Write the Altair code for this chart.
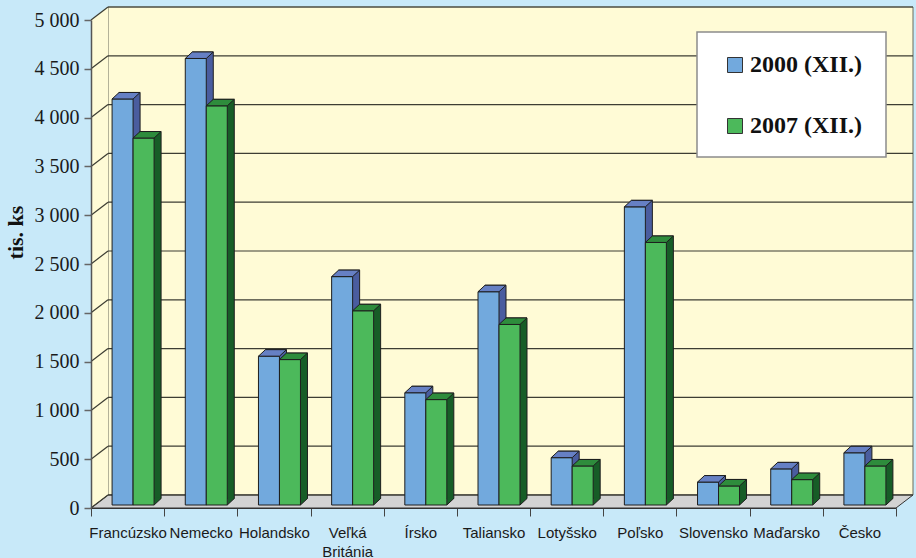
import altair as alt
import pandas as pd

# ---- data ----
krajiny = ["Francúzsko", "Nemecko", "Holandsko", "Veľká Británia", "Írsko",
           "Taliansko", "Lotyšsko", "Poľsko", "Slovensko", "Maďarsko", "Česko"]
roky = ["2000 (XII.)", "2007 (XII.)"]
h2000 = [4160, 4575, 1525, 2340, 1150, 2185, 485, 3055, 235, 370, 535]
h2007 = [3760, 4090, 1490, 1990, 1080, 1850, 400, 2690, 195, 260, 400]
y_ticks = list(range(0, 5001, 500))

# ---- style ----
W, H = 805, 488
DX, DY = 17, -13          # depth of walls (px)
BW = 21                   # bar width (px)
FRONT_DY = -3             # bar front plane offset
BDX, BDY = 7, -6.5        # bar depth (px)
OFFS = [-5, 16]           # bar centre offsets within the category
BG = "#c8e9f9"
WALL = "#fffbd6"
FLOOR = "#d3d3d3"
GRID = "#3d3d33"
EDGE = "#1e1e1e"
FRONT = ["#72a9dd", "#4cb95b"]
TOP = ["#6680c4", "#2e8c3c"]
SIDE = ["#4a5d9f", "#175d27"]

df = pd.DataFrame({
    "krajina": krajiny * 2,
    "rok": [roky[0]] * len(krajiny) + [roky[1]] * len(krajiny),
    "hodnota": h2000 + h2007,
})
ticks_df = pd.DataFrame({"v": y_ticks})
one = pd.DataFrame({"k": [0]})

x_scale = alt.Scale(type="band", domain=krajiny, paddingInner=0, paddingOuter=0)
y_scale = alt.Scale(domain=[0, 5000], nice=False, zero=True)

x_axis = alt.Axis(
    title=None, labelExpr="split(datum.label, ' ')", labelFont="Liberation Sans",
    labelFontSize=15, labelColor="#1a1a1a", labelAngle=0, labelPadding=9,
    labelLineHeight=19, labelBaseline="top", tickSize=8, tickColor="#444",
    tickWidth=1, tickBand="extent", domainColor="#333", domainWidth=1, zindex=1,
    labelLimit=200,
)
y_axis = alt.Axis(
    title="tis. ks", values=y_ticks,
    labelExpr="replace(format(datum.value, ','), ',', ' ')",
    labelFont="Liberation Serif", labelFontSize=20, labelColor="#1a1a1a",
    labelPadding=5, labelFlush=False, labelOverlap=False,
    tickSize=7, tickColor="#666", tickWidth=1.5,
    domainColor="#555", domainWidth=1.5, grid=False,
    titleFont="Liberation Serif", titleFontSize=22, titleFontWeight="bold",
    titleColor="#111", titleX=-76, titleY=212, titleAngle=-90,
    titleAlign="center", titleBaseline="middle", zindex=1,
)

X = alt.X("krajina:N", scale=x_scale, axis=x_axis, sort=None)
Y = alt.Y("hodnota:Q", scale=y_scale, axis=y_axis)
Y0 = alt.YDatum(0, scale=y_scale, axis=y_axis)

color_scale = alt.Scale(domain=roky, range=FRONT)
legend = alt.Legend(
    title=None, orient="none", legendX=632, legendY=33, symbolType="square",
    symbolSize=225, symbolStrokeColor="#333", symbolStrokeWidth=1,
    labelFont="Liberation Serif", labelFontSize=24, labelFontWeight="bold",
    labelColor="#111", labelOffset=3, rowPadding=37, padding=0, labelLimit=300,
)

# ---- walls & floor ----
back_wall = alt.Chart(one).mark_rect(
    fill=WALL, stroke="#6b6b5a", strokeWidth=1,
    xOffset=DX, x2Offset=DX, yOffset=DY, y2Offset=DY,
).encode(x=alt.value(0), x2=alt.value(W),
         y=alt.YDatum(5000, scale=y_scale, axis=y_axis), y2=alt.Y2Datum(0))

left_wall = alt.Chart(one).mark_point(
    shape=f"M0,0L0,{-H}L{DX},{-H + DY}L{DX},{DY}Z", size=4, filled=True,
    fill=WALL, opacity=1, strokeWidth=0,
).encode(x=alt.value(0), y=Y0)

floor = alt.Chart(one).mark_point(
    shape=f"M0,0L{W},0L{W + DX},{DY}L{DX},{DY}Z", size=4, filled=True,
    fill=FLOOR, stroke="#333", strokeWidth=1, opacity=1,
).encode(x=alt.value(0), y=Y0)

grid_back = alt.Chart(ticks_df).mark_rule(
    color=GRID, strokeWidth=1.2, xOffset=DX, x2Offset=DX, yOffset=DY, y2Offset=DY,
).encode(x=alt.value(0), x2=alt.value(W), y=alt.Y("v:Q", scale=y_scale, axis=y_axis))

grid_side = alt.Chart(ticks_df).mark_rule(
    color=GRID, strokeWidth=1.2, y2Offset=DY,
).encode(x=alt.value(0), x2=alt.value(DX),
         y=alt.Y("v:Q", scale=y_scale, axis=y_axis), y2=alt.Y2("v:Q"))

# ---- 3D bars ----
sides, tris, edges, fronts, tops = [], [], [], [], []
for i, rok in enumerate(roky):
    off = OFFS[i]
    base = alt.Chart(df).transform_filter(alt.datum.rok == rok)
    sides.append(base.mark_bar(
        width=BW, fill=SIDE[i], stroke=EDGE, strokeWidth=1,
        xOffset=off + BDX, x2Offset=off + BDX,
        yOffset=FRONT_DY + BDY, y2Offset=FRONT_DY + BDY,
    ).encode(x=X, y=Y))
    tris.append(base.mark_point(
        shape=f"M{BW/2},0L{BW/2 + BDX},{BDY}L{BW/2 + BDX},{BDY - 0.8}L{BW/2},{BDY - 0.8}Z",
        size=4, filled=True, fill=SIDE[i], opacity=1, strokeWidth=0,
        xOffset=off, yOffset=FRONT_DY,
    ).encode(x=X, y=Y0))
    edges.append(base.mark_point(
        shape=f"M{BW/2},0L{BW/2 + BDX},{BDY}", size=4, filled=False,
        stroke=EDGE, strokeWidth=1, opacity=1, xOffset=off, yOffset=FRONT_DY,
    ).encode(x=X, y=Y0))
    fronts.append(base.mark_bar(
        width=BW, stroke=EDGE, strokeWidth=1, opacity=1,
        xOffset=off, x2Offset=off, yOffset=FRONT_DY, y2Offset=FRONT_DY,
    ).encode(x=X, y=Y, color=alt.Color("rok:N", scale=color_scale, legend=legend)))
    tops.append(base.mark_point(
        shape=f"M{-BW/2},0L{BW/2},0L{BW/2 + BDX},{BDY}L{-BW/2 + BDX},{BDY}Z",
        size=4, filled=True, fill=TOP[i], stroke=EDGE, strokeWidth=1, opacity=1,
        xOffset=off, yOffset=FRONT_DY,
    ).encode(x=X, y=Y))

legend_frame = alt.Chart(one).mark_rect(
    fill="white", stroke="#8c8c8c", strokeWidth=1.5,
).encode(x=alt.value(606), x2=alt.value(795), y=alt.value(12), y2=alt.value(137))

chart = alt.layer(
    back_wall, left_wall, floor, grid_back, grid_side,
    *sides, *tris, *edges, *fronts, *tops, legend_frame,
).properties(
    width=W, height=H, background=BG,
    padding={"left": 91, "top": 20, "right": 20, "bottom": 50},
    autosize=alt.AutoSizeParams(type="none"),
).configure_view(stroke="transparent")

chart.save("out.html", embed_options={"renderer": "svg", "actions": False})
